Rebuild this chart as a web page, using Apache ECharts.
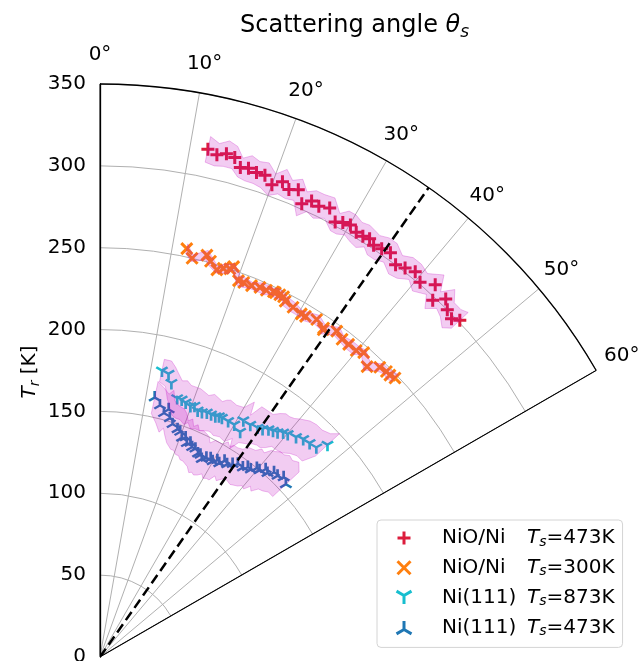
<!DOCTYPE html>
<html>
<head>
<meta charset="utf-8">
<title>Scattering angle</title>
<script src="https://cdn.jsdelivr.net/npm/echarts@6.0.0/dist/echarts.min.js"></script>
<style>
html, body { margin: 0; padding: 0; background: #fff; }
#chart { width: 639px; height: 661px; }
</style>
</head>
<body>
<div id="chart"></div>
<script>
// scattering angle [deg], rotational temperature T_r [K], half width of the shaded band [K]
var nioHotAngle = [12.0, 13.1, 14.1, 15.1, 16.0, 16.9, 17.9, 18.9, 20.0, 21.0, 22.0, 23.0, 24.0, 24.9, 25.9, 27.1, 28.4, 29.2, 30.1, 31.1, 32.0, 32.8, 33.6, 34.6, 35.7, 37.0, 38.1, 39.3, 40.5, 42.0, 43.0, 44.0, 45.0, 46.1, 46.9];
var nioHotT = [317, 315, 317, 316, 311, 312, 311, 311, 307, 311, 308, 310, 303, 307, 306, 308, 302, 304, 305, 303, 303, 304, 302, 303, 304, 300, 302, 304, 301, 306, 298, 304, 300, 298, 301];
var nioHotErr = [8, 7, 8, 7, 6, 8, 7, 8, 7, 8, 6, 7, 8, 7, 8, 7, 6, 8, 7, 7, 8, 6, 7, 8, 7, 7, 8, 6, 7, 8, 7, 8, 6, 8, 7];

var nioColdAngle = [12.0, 13.0, 14.9, 15.6, 16.8, 17.6, 18.5, 18.9, 20.2, 21.0, 22.2, 23.4, 24.4, 25.4, 25.7, 26.4, 27.0, 27.5, 28.9, 30.4, 31.1, 32.7, 34.2, 34.3, 36.0, 37.3, 38.5, 39.9, 40.9, 42.6, 44.0, 45.1, 45.8, 46.6];
var nioColdT = [255, 250, 254, 251, 247, 249, 250, 252, 245, 245, 245, 246, 246, 247, 247, 247, 247, 245, 244, 243, 243, 245, 243, 242, 246, 244, 244, 244, 246, 241, 246, 247, 247, 248];
var nioColdErr = [3, 2, 3, 3, 2, 3, 3, 2, 3, 3, 2, 3, 3, 2, 3, 3, 2, 3, 3, 2, 3, 3, 2, 3, 3, 2, 3, 3, 2, 3, 3, 2, 3, 3];

var niHotAngle = [12.2, 13.6, 14.6, 16.6, 17.6, 18.6, 19.8, 20.6, 21.6, 22.6, 23.6, 24.6, 25.6, 26.3, 27.0, 28.5, 30.0, 31.2, 31.9, 32.9, 34.5, 35.5, 36.5, 37.4, 38.3, 39.2, 40.1, 41.7, 43.0, 44.4, 45.9, 47.0];
var niHotT = [179, 178, 173, 165, 165, 164, 163, 164, 162, 162, 163, 163, 163, 164, 164, 164, 164, 169, 162, 169, 170, 171, 173, 174, 175, 177, 178, 180, 182, 183, 184, 190];
var niHotErr = [7, 8, 10, 11, 12, 11, 12, 11, 12, 11, 12, 11, 10, 11, 12, 11, 12, 13, 12, 13, 12, 11, 12, 13, 12, 11, 12, 13, 12, 11, 12, 10];

var niWarmAngle = [11.9, 13.4, 14.7, 15.5, 16.3, 17.3, 18.8, 19.6, 20.5, 21.3, 22.1, 22.9, 23.7, 24.6, 25.7, 26.4, 27.2, 28.1, 29.1, 29.9, 30.8, 31.6, 32.4, 33.4, 34.5, 35.5, 37.0, 37.9, 38.8, 39.7, 40.5, 41.4, 42.3, 43.3, 44.4, 45.6, 47.1];
var niWarmT = [162, 158, 154, 157, 152, 149, 147, 146, 143, 144, 141, 142, 140, 140, 138, 138, 136, 138, 139, 138, 140, 139, 142, 141, 143, 145, 145, 147, 147, 150, 150, 153, 152, 155, 155, 157, 155];
var niWarmErr = [10, 11, 12, 12, 11, 12, 13, 12, 11, 12, 11, 12, 11, 12, 13, 12, 11, 12, 11, 12, 13, 12, 11, 12, 11, 12, 13, 14, 13, 14, 15, 14, 15, 14, 13, 13, 11];

var samples = ['NiO/Ni', 'NiO/Ni', 'Ni(111)', 'Ni(111)'];
var surfaceTemps = ['473K', '300K', '873K', '473K'];
var colors = ['#dc1c3c', '#ff7f0e', '#17becf', '#1f77b4'];

var guideAngle = 35;      // dashed line
var angleTicks = [0, 10, 20, 30, 40, 50, 60];
var radiusTicks = [0, 350, 50];
var angleLabelRadius = 368;   // theta labels sit just outside the 350 K rim

var font = 'DejaVu Sans';
var chart = echarts.init(document.getElementById('chart'));

function points(angles, temps) {
    return angles.map(function (a, i) { return [temps[i], a]; });
}

function bandPoints(angles, temps, errs) {
    var upper = [], lower = [];
    for (var i = 0; i < angles.length; i++) {
        upper.push([temps[i] + errs[i], angles[i]]);
        lower.unshift([temps[i] - errs[i], angles[i]]);
    }
    return upper.concat(lower);
}

function band(pts) {
    return {
        type: 'custom',
        coordinateSystem: 'polar',
        silent: true,
        z: 5,
        data: [[0, 0]],
        encode: { radius: 0, angle: 1 },
        renderItem: function (params, api) {
            return {
                type: 'polygon',
                shape: { points: pts.map(function (p) { return api.coord(p); }) },
                style: { fill: 'rgba(191,0,191,0.2)', stroke: 'rgba(191,0,191,0.25)', lineWidth: 1 }
            };
        }
    };
}

var names = samples.map(function (s, i) { return s + ' ' + surfaceTemps[i]; });

var plus = 'path://M5,0L5,10M0,5L10,5';
var cross = 'path://M0,0L10,10M10,0L0,10';
var triDown = 'path://M5,5L5,10M5,5L0.67,2.5M5,5L9.33,2.5';
var triUp = 'path://M5,5L5,0M5,5L0.67,7.5M5,5L9.33,7.5';

function scatter(i, angles, temps, symbol, size, offset, lw) {
    return {
        name: names[i],
        type: 'scatter',
        coordinateSystem: 'polar',
        symbol: symbol,
        symbolSize: size,
        symbolOffset: offset,
        data: points(angles, temps),
        itemStyle: { color: 'none', borderColor: colors[i], borderWidth: lw, opacity: 1 },
        z: 3
    };
}

function radial(angle, style, z) {
    return {
        type: 'line',
        coordinateSystem: 'polar',
        data: [[radiusTicks[0], angle], [radiusTicks[1], angle]],
        symbol: 'none',
        silent: true,
        lineStyle: style,
        z: z
    };
}

// theta tick labels, centred on their angle like matplotlib does
var angleLabels = {
    type: 'custom',
    coordinateSystem: 'polar',
    silent: true,
    data: angleTicks.map(function (a) { return [angleLabelRadius, a]; }),
    encode: { radius: 0, angle: 1 },
    renderItem: function (params, api) {
        var p = api.coord([api.value(0), api.value(1)]);
        return {
            type: 'text',
            x: p[0],
            y: p[1],
            style: {
                text: api.value(1) + '°',
                fontSize: 20,
                fontFamily: font,
                fill: '#000',
                align: 'center',
                verticalAlign: 'middle'
            }
        };
    }
};

var option = {
    animation: false,
    backgroundColor: '#fff',
    textStyle: { fontFamily: font },
    title: {
        text: '{a|Scattering angle }{i|θ}{s|s}',
        left: 235,
        top: 6,
        textStyle: {
            fontWeight: 'normal',
            rich: {
                a: { fontSize: 24, fontFamily: font, fontWeight: 'normal', color: '#000', lineHeight: 30, verticalAlign: 'middle' },
                i: { fontSize: 24, fontFamily: font, fontWeight: 'normal', fontStyle: 'italic', color: '#000', lineHeight: 30, verticalAlign: 'middle' },
                s: { fontSize: 17, fontFamily: font, fontWeight: 'normal', fontStyle: 'italic', color: '#000', verticalAlign: 'bottom' }
            }
        }
    },
    polar: { center: [100, 657], radius: 573 },
    angleAxis: {
        type: 'value',
        min: angleTicks[0], max: angleTicks[angleTicks.length - 1], interval: angleTicks[1] - angleTicks[0],
        startAngle: 90, endAngle: 30, clockwise: true,
        axisLine: { lineStyle: { color: '#000', width: 1.3 } },
        axisTick: { show: false },
        axisLabel: { show: false },
        splitLine: { show: true, lineStyle: { color: ['#000', '#b0b0b0', '#b0b0b0', '#b0b0b0', '#b0b0b0', '#b0b0b0', '#000'], width: 1 } }
    },
    radiusAxis: {
        type: 'value',
        min: radiusTicks[0], max: radiusTicks[1], interval: radiusTicks[2],
        axisLine: { lineStyle: { color: '#000', width: 1.3 } },
        axisTick: { show: false },
        axisLabel: { fontSize: 20, color: '#000', margin: 14, fontFamily: font },
        splitLine: { show: true, lineStyle: { color: '#b0b0b0', width: 1 } }
    },
    legend: {
        orient: 'vertical',
        left: 377,
        top: 520,
        padding: [8, 8, 9, 17],
        itemWidth: 22,
        itemHeight: 13,
        itemGap: 8.8,
        backgroundColor: '#fff',
        borderColor: '#d4d4d4',
        borderWidth: 1,
        borderRadius: 4,
        selectedMode: false,
        data: names,
        itemStyle: { borderWidth: 3 },
        formatter: function (name) {
            var i = names.indexOf(name);
            return '{n|' + samples[i] + '}{i|T}{s|s}{e|=' + surfaceTemps[i] + '}';
        },
        textStyle: {
            rich: {
                n: { fontSize: 20, fontFamily: font, color: '#000', lineHeight: 22, width: 85, padding: [0, 0, 0, 22], verticalAlign: 'middle' },
                i: { fontSize: 20, fontFamily: font, fontStyle: 'italic', color: '#000', lineHeight: 22, verticalAlign: 'middle' },
                s: { fontSize: 14, fontFamily: font, fontStyle: 'italic', color: '#000', verticalAlign: 'bottom' },
                e: { fontSize: 20, fontFamily: font, color: '#000', lineHeight: 22, verticalAlign: 'middle' }
            }
        }
    },
    graphic: [{
        type: 'text',
        x: 30,
        y: 372,
        rotation: Math.PI / 2,
        style: {
            text: '{i|T}{s|r}{a| [K]}',
            align: 'center',
            verticalAlign: 'middle',
            rich: {
                i: { fontSize: 20, fontFamily: font, fontStyle: 'italic', fill: '#000', lineHeight: 24, verticalAlign: 'middle' },
                s: { fontSize: 14, fontFamily: font, fontStyle: 'italic', fill: '#000', verticalAlign: 'bottom' },
                a: { fontSize: 20, fontFamily: font, fill: '#000', lineHeight: 24, verticalAlign: 'middle' }
            }
        }
    }],
    series: [
        scatter(0, nioHotAngle, nioHotT, plus, 13, [0, 0], 3),
        scatter(1, nioColdAngle, nioColdT, cross, 11, [0, 0], 3),
        scatter(2, niHotAngle, niHotT, triDown, [11.3, 9.75], [0, 1.6], 2.5),
        scatter(3, niWarmAngle, niWarmT, triUp, [11.3, 9.75], [0, -1.6], 2.5),
        band(bandPoints(nioHotAngle, nioHotT, nioHotErr)),
        band(bandPoints(nioColdAngle, nioColdT, nioColdErr)),
        band(bandPoints(niHotAngle, niHotT, niHotErr)),
        band(bandPoints(niWarmAngle, niWarmT, niWarmErr)),
        radial(guideAngle, { color: '#000', width: 2.5, type: [10, 5] }, 6),
        radial(angleTicks[angleTicks.length - 1], { color: '#000', width: 1.3 }, 6),
        angleLabels
    ]
};

chart.setOption(option);
</script>
</body>
</html>
